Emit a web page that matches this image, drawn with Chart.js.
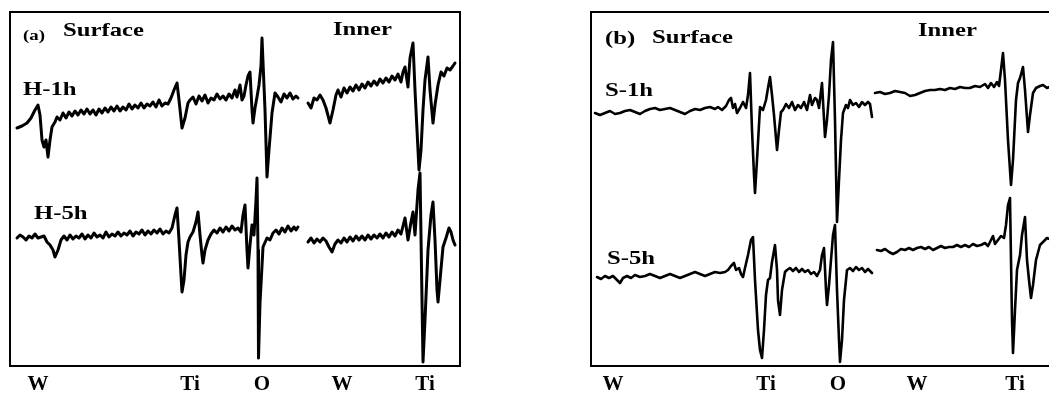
<!DOCTYPE html>
<html>
<head>
<meta charset="utf-8">
<script src="https://cdn.jsdelivr.net/npm/chart.js@4"></script>
<style>
html,body{margin:0;padding:0;background:#fff;width:1049px;height:394px;overflow:hidden;position:relative;}
canvas{position:absolute;top:0;}
#ca{left:0;}
#cb{left:570px;}
</style>
</head>
<body>
<canvas id="ca" width="480" height="394"></canvas>
<canvas id="cb" width="490" height="394"></canvas>
<script>
// ---- tick labels (element edges) ----
const tickLabels = ['W', 'Ti', 'O', 'W', 'Ti'];
const tickPosA = [38, 190, 262, 342, 425];
const tickPosB = [613, 766, 838, 917, 1015];

// ---- panel (a): H-1h / H-5h, [channel, intensity (a.u.)] ----
const h1Surface = [[17,238],[22,240],[27,243],[31,248],[35,256],[38,261],[40,251],[42,226],[44,219],[46,226],[48,209],[50,226],[52,239],[55,244],[57,249],[60,246],[63,253],[66,248],[69,254],[72,250],[75,255],[78,251],[81,256],[84,252],[87,257],[90,252],[93,256],[96,251],[99,257],[102,253],[105,258],[108,254],[111,259],[114,255],[117,260],[120,255],[123,259],[126,256],[129,262],[132,257],[135,261],[138,258],[141,263],[144,258],[147,262],[150,260],[153,264],[156,259],[159,266],[162,260],[165,263],[168,262],[171,268],[174,276],[177,283],[179,266],[182,238],[185,248],[188,263],[190,266],[193,269],[196,262],[199,270],[202,265],[205,271],[208,263],[211,268],[214,266],[217,272],[220,267],[223,270],[226,266],[229,272],[232,268],[235,276],[237,269],[240,281],[242,266],[244,270],[246,281],[248,290],[250,294],[252,256],[253,243],[255,258],[257,269],[259,281],[261,300],[262,328],[265,256],[267,189],[269,216],[272,253],[275,273],[278,269],[281,264],[284,272],[287,268],[290,273],[293,267],[296,270],[298,268]];
const h1Inner = [[308,263],[311,258],[314,268],[317,266],[320,271],[323,266],[326,258],[330,243],[333,256],[336,271],[338,276],[341,269],[344,278],[347,273],[350,279],[353,275],[356,281],[359,276],[362,282],[365,278],[368,284],[371,280],[374,285],[377,281],[380,287],[383,283],[386,288],[389,284],[392,290],[395,286],[398,292],[401,284],[403,294],[405,299],[408,279],[410,308],[413,323],[415,276],[417,236],[419,196],[421,216],[423,256],[425,286],[428,309],[430,276],[433,243],[435,261],[438,281],[441,294],[444,290],[447,298],[450,296],[453,300],[455,303]];
const h5Surface = [[17,128],[20,131],[23,129],[26,126],[29,130],[32,128],[35,132],[38,128],[41,129],[44,130],[47,124],[50,121],[53,116],[55,109],[58,116],[61,126],[64,130],[67,126],[70,131],[73,127],[76,130],[79,128],[82,132],[85,127],[88,131],[91,128],[94,133],[97,129],[100,131],[103,128],[106,134],[109,129],[112,132],[115,130],[118,134],[121,130],[124,133],[127,131],[130,135],[133,130],[136,134],[139,132],[142,136],[145,131],[148,135],[151,132],[154,136],[157,133],[160,137],[163,132],[166,135],[169,133],[172,138],[175,151],[177,158],[179,126],[181,91],[182,74],[184,86],[186,111],[188,124],[190,129],[193,134],[196,144],[198,154],[200,131],[202,111],[203,103],[205,116],[208,126],[211,132],[214,136],[217,133],[220,138],[223,134],[226,139],[229,135],[232,140],[235,136],[238,138],[241,134],[243,151],[245,161],[247,116],[248,98],[250,121],[252,141],[254,131],[256,166],[257,188],[258,116],[258.5,8],[260,63],[263,119],[267,128],[270,126],[273,133],[276,136],[279,132],[282,138],[285,134],[288,140],[291,135],[294,139],[296,136],[298,139]];
const h5Inner = [[308,124],[311,128],[314,123],[317,127],[320,124],[323,128],[326,125],[329,119],[332,114],[335,122],[338,126],[341,123],[344,128],[347,124],[350,129],[353,125],[356,130],[359,126],[362,130],[365,126],[368,131],[371,127],[374,131],[377,128],[380,132],[383,128],[386,133],[389,129],[392,134],[395,130],[398,136],[401,132],[403,140],[405,148],[408,126],[411,144],[413,154],[415,131],[418,176],[420,193],[422,66],[423,4],[425,46],[428,116],[431,151],[433,164],[435,126],[437,76],[438,64],[440,86],[443,119],[446,128],[449,138],[451,134],[453,126],[455,121]];

// ---- panel (b): S-1h / S-5h ----
const s1Surface = [[595,253],[600,251],[605,253],[610,255],[615,252],[620,253],[625,255],[630,256],[635,254],[640,252],[645,255],[650,257],[655,258],[660,256],[665,257],[670,258],[675,256],[680,254],[685,252],[690,255],[695,257],[700,256],[705,258],[710,259],[715,257],[718,259],[722,256],[726,260],[729,266],[731,268],[733,258],[735,262],[737,253],[740,258],[743,264],[746,258],[748,271],[750,293],[752,236],[754,191],[755,173],[757,206],[760,259],[763,256],[766,266],[768,278],[770,289],[772,271],[774,251],[777,216],[779,236],[781,254],[783,256],[786,262],[789,258],[792,264],[795,256],[798,261],[801,258],[804,264],[807,256],[810,271],[812,261],[815,268],[817,266],[819,258],[822,283],[825,229],[827,246],[829,271],[831,306],[833,324],[835,246],[837,144],[839,186],[841,226],[843,253],[846,261],[848,258],[850,266],[853,261],[856,263],[859,259],[862,264],[865,261],[868,264],[870,262],[872,249]];
const s1Inner = [[875,273],[880,274],[885,272],[890,273],[895,275],[900,274],[905,273],[910,270],[915,271],[920,273],[925,275],[930,276],[935,276],[940,277],[945,276],[950,278],[955,277],[960,279],[965,278],[970,278],[975,280],[980,279],[985,282],[988,278],[991,283],[994,279],[997,284],[999,280],[1001,296],[1003,313],[1005,286],[1008,226],[1011,181],[1013,206],[1016,266],[1018,283],[1020,288],[1023,299],[1025,276],[1028,234],[1030,251],[1033,273],[1036,278],[1040,280],[1043,281],[1047,278],[1052,280]];
const s5Surface = [[597,89],[601,87],[605,90],[609,88],[613,90],[617,86],[620,83],[623,88],[627,90],[631,88],[635,91],[640,89],[645,90],[650,92],[655,90],[660,88],[665,90],[670,92],[675,90],[680,88],[685,90],[690,92],[695,94],[700,92],[705,90],[710,92],[715,94],[720,93],[725,94],[728,96],[731,100],[734,103],[736,96],[739,98],[741,92],[743,89],[745,98],[748,111],[751,126],[753,129],[755,86],[758,36],[760,16],[762,8],[764,36],[766,71],[768,86],[770,88],[772,104],[775,121],[777,96],[778,66],[780,51],[782,76],[785,94],[787,96],[790,98],[793,95],[796,98],[799,94],[802,97],[805,94],[808,96],[811,92],[814,94],[817,90],[820,96],[822,111],[824,118],[826,76],[827,61],[829,81],[831,106],[833,131],[835,141],[837,76],[839,26],[840,4],[842,26],[844,66],[847,96],[850,98],[853,95],[856,99],[859,96],[862,98],[865,94],[868,97],[872,93]];
const s5Inner = [[877,116],[881,115],[885,117],[889,114],[893,112],[897,114],[901,117],[905,116],[909,118],[913,116],[917,118],[921,119],[925,117],[929,119],[933,116],[937,118],[941,120],[945,118],[949,119],[953,119],[957,121],[961,119],[965,121],[969,119],[973,122],[977,120],[981,121],[985,123],[988,120],[991,126],[993,130],[995,122],[998,126],[1001,130],[1004,128],[1006,141],[1008,161],[1010,168],[1011,106],[1012,46],[1013,13],[1015,56],[1017,96],[1020,111],[1022,131],[1025,149],[1027,106],[1029,86],[1031,68],[1033,81],[1036,106],[1040,121],[1043,124],[1047,128],[1052,126]];

// ---- annotations ----
const SERIF = '"Liberation Serif", "Times New Roman", serif';
const annotA = [
  {text:'(a)', x:23, y:326, font:'bold 14px ' + SERIF, sx:1.35},
  {text:'Surface', x:63, y:330, font:'bold 19px ' + SERIF, sx:1.3},
  {text:'Inner', x:333, y:331, font:'bold 19px ' + SERIF, sx:1.3},
  {text:'H-1h', x:23, y:271, font:'bold 19px ' + SERIF, sx:1.3},
  {text:'H-5h', x:34, y:147, font:'bold 19px ' + SERIF, sx:1.3}
];
const annotB = [
  {text:'(b)', x:605, y:322, font:'bold 19px ' + SERIF, sx:1.3},
  {text:'Surface', x:652, y:323, font:'bold 19px ' + SERIF, sx:1.3},
  {text:'Inner', x:918, y:330, font:'bold 19px ' + SERIF, sx:1.3},
  {text:'S-1h', x:605, y:270, font:'bold 19px ' + SERIF, sx:1.3},
  {text:'S-5h', x:607, y:102, font:'bold 19px ' + SERIF, sx:1.3}
];

const framePlugin = {
  id: 'frame',
  afterDatasetsDraw(chart, args, opts) {
    const ctx = chart.ctx, a = chart.chartArea;
    const xs = chart.scales.x, ys = chart.scales.y;
    ctx.save();
    ctx.strokeStyle = '#000';
    ctx.lineWidth = 2;
    ctx.strokeRect(a.left, a.top, a.right - a.left, a.bottom - a.top);
    ctx.fillStyle = '#000';
    ctx.textBaseline = 'alphabetic';
    for (const t of (opts.items || [])) {
      ctx.save();
      ctx.font = t.font;
      ctx.translate(xs.getPixelForValue(t.x), ys.getPixelForValue(t.y));
      ctx.scale(t.sx || 1, 1);
      ctx.fillText(t.text, 0, 0);
      ctx.restore();
    }
    ctx.restore();
  }
};

function makeChart(id, series, xmin, xmax, ticks, padL, padR, annot, lw) {
  return new Chart(document.getElementById(id), {
    type: 'line',
    data: {
      datasets: series.map(s => ({
        data: s, borderColor: '#000', borderWidth: lw, pointRadius: 0,
        tension: 0, fill: false, borderJoinStyle: 'round', borderCapStyle: 'round'
      }))
    },
    options: {
      responsive: false, animation: false, devicePixelRatio: 1,
      layout: {padding: {left: padL, right: padR, top: 12, bottom: 0}},
      plugins: {legend: {display: false}, tooltip: {enabled: false}, frame: {items: annot}},
      scales: {
        x: {
          type: 'linear', min: xmin, max: xmax,
          grid: {display: false, drawTicks: false}, border: {display: false},
          afterBuildTicks: ax => { ax.ticks = ticks.map(v => ({value: v})); },
          afterFit: ax => { ax.height = 28; },
          ticks: {
            autoSkip: false, maxRotation: 0, padding: 6, color: '#000',
            font: {family: SERIF, size: 21, weight: 'bold'},
            callback: (v, i) => tickLabels[i]
          }
        },
        y: {display: false, min: 0, max: 354}
      }
    },
    plugins: [framePlugin]
  });
}

makeChart('ca', [h1Surface, h1Inner, h5Surface, h5Inner], 10, 460, tickPosA, 10, 20, annotA, 3);
makeChart('cb', [s1Surface, s1Inner, s5Surface, s5Inner], 591, 1053, tickPosB, 21, 7, annotB, 2.6);
</script>
</body>
</html>
